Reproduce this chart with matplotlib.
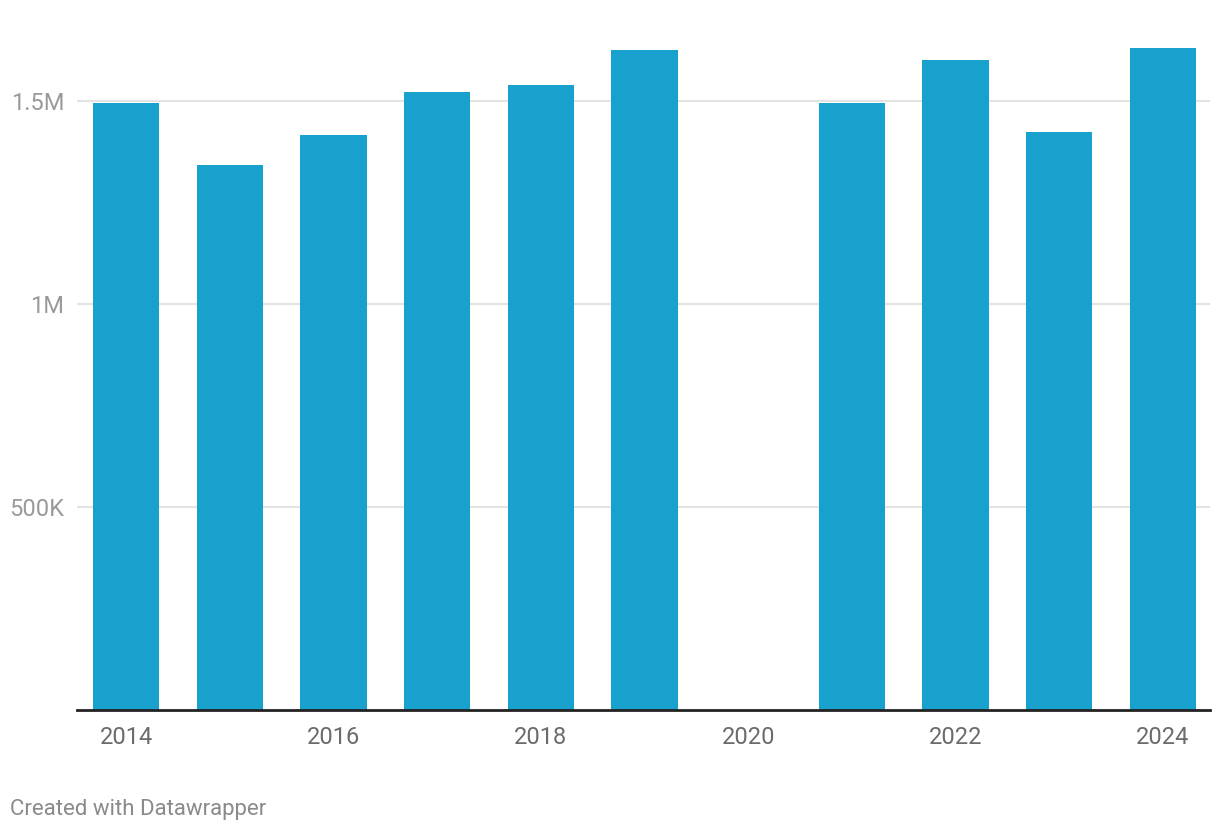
import numpy as np
import matplotlib
matplotlib.use("Agg")
import matplotlib.pyplot as plt

years = [2014, 2015, 2016, 2017, 2018, 2019, 2020, 2021, 2022, 2023, 2024]
values = [1496000, 1343000, 1417000, 1523000, 1541000, 1627000, np.nan,
          1496000, 1602000, 1425000, 1632000]
xtick_years = [2014, 2016, 2018, 2020, 2022, 2024]
ytick_vals = [500000, 1000000, 1500000]
ytick_labels = ["500K", "1M", "1.5M"]

plt.rcParams['font.family'] = ['Roboto', 'DejaVu Sans']

W, H = 1220, 832
fig = plt.figure(figsize=(W / 100, H / 100), dpi=100)
left, right = 77 / W, 1210 / W
bottom = 1 - 709.7 / H
top = 1.0
ax = fig.add_axes([left, bottom, right - left, top - bottom])

vals = np.array(values, dtype=float)
ax.bar(years, np.nan_to_num(vals, nan=0.0), width=0.64, color="#18a1cd", zorder=2)

ax.set_xlim(2014 - 0.475, 2024 + 0.455)
ax.set_ylim(0, 709.7 / 405.7 * 1e6)

ax.set_yticks(ytick_vals)
ax.set_yticklabels(ytick_labels)
ax.set_xticks(xtick_years)
ax.set_xticklabels([str(y) for y in xtick_years])

ax.grid(axis="y", color="#e3e3e3", linewidth=1.5, zorder=0)
ax.set_axisbelow(True)
for s in ["top", "right", "left"]:
    ax.spines[s].set_visible(False)
ax.spines["bottom"].set_color("#222222")
ax.spines["bottom"].set_linewidth(2)
ax.spines["bottom"].set_zorder(3)

ax.tick_params(axis="y", length=0, pad=9, labelsize=17, labelcolor="#9a9a9a")
ax.tick_params(axis="x", length=0, pad=12, labelsize=17, labelcolor="#6b6b6b")

fig.text(10 / W, 1 - 809 / H, "Created with Datawrapper", fontsize=16,
         color="#8a8a8a", va="center", ha="left")

fig.savefig("out.png", dpi=100)
